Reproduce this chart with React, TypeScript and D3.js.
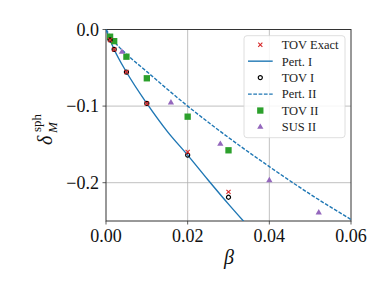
import * as d3 from "d3";

const betaTov = [0.001, 0.002, 0.005, 0.01, 0.02, 0.03];
const tovExact = [-0.0137, -0.026, -0.0555, -0.0965, -0.16, -0.212];
const tovI = [-0.0137, -0.026, -0.0555, -0.0965, -0.164, -0.219];
const tovII = [-0.0094, -0.0152, -0.0355, -0.0637, -0.1138, -0.1577];

const betaSus = [0.0039, 0.0159, 0.028, 0.04, 0.0521];
const susII = [-0.0294, -0.0955, -0.1495, -0.197, -0.239];

const betaPertI = [0, 0.001, 0.002, 0.005, 0.01, 0.015, 0.02, 0.025, 0.03, 0.035];
const pertI = [0, -0.0137, -0.026, -0.0555, -0.0965, -0.133, -0.164, -0.1965, -0.228, -0.258];

const betaPertII = [0, 0.001, 0.002, 0.005, 0.01, 0.02, 0.03, 0.04, 0.05, 0.06];
const pertII = [0, -0.008, -0.0155, -0.032, -0.055, -0.1, -0.141, -0.179, -0.215, -0.248];

const xTicks = [0, 0.02, 0.04, 0.06];
const yTicks = [0, -0.1, -0.2];

const legendLabels = ["TOV Exact", "Pert. I", "TOV I", "Pert. II", "TOV II", "SUS II"];
const legendKinds = ["x", "solid", "circle", "dashed", "square", "triangle"];

const RED = "#d62728";
const BLUE = "#1f77b4";
const GREEN = "#2ca02c";
const PURPLE = "#9467bd";
const FONT = "Liberation Serif";

const width = 390;
const height = 293;
const left = 106, right = 351, top = 29.5, bottom = 221;

const x = d3.scaleLinear().domain([0, 0.06]).range([left, right]);
const y = d3.scaleLinear().domain([-0.25, 0]).range([bottom, top]);
const fx = d3.format(".2f");
const fy = d3.format(".1f");

const sym = {
  x: d3.symbol(d3.symbolX, 13)(),
  circle: d3.symbol(d3.symbolCircle, 13)(),
  square: d3.symbol(d3.symbolSquare, 40)(),
  triangle: d3.symbol(d3.symbolTriangle, 17)(),
};

const markerStyle = (kind: string) => {
  if (kind === "x") return { fill: "none", stroke: RED, strokeWidth: 1.1 };
  if (kind === "circle") return { fill: "none", stroke: "#000", strokeWidth: 1.2 };
  if (kind === "square") return { fill: GREEN };
  return { fill: PURPLE };
};

const Marker = ({ kind, cx, cy }: { kind: string; cx: number; cy: number }) => (
  <path d={sym[kind]} transform={`translate(${cx},${cy})`} {...markerStyle(kind)} />
);

const lineGen = (xs: number[], ys: number[]) =>
  d3
    .line<number>()
    .x((d) => x(d))
    .y((_, i) => y(ys[i]))
    .curve(d3.curveMonotoneX)(xs);

const App = () => {
  const rowY = d3.scalePoint().domain(legendLabels).range([44.7, 127]);
  const txt = { fontFamily: FONT, fill: "#111" };

  return (
    <svg width={width} height={height} style={{ position: "absolute", left: 0, top: 0, background: "#fff" }}>
      <defs>
        <clipPath id="plot-clip">
          <rect x={left} y={top} width={right - left} height={bottom - top} />
        </clipPath>
      </defs>

      {/* grid */}
      <g stroke="#b0b0b0" strokeWidth={0.8}>
        {xTicks.slice(1, -1).map((t) => (
          <line key={t} x1={x(t)} x2={x(t)} y1={top} y2={bottom} />
        ))}
        {yTicks.slice(1).map((t) => (
          <line key={t} x1={left} x2={right} y1={y(t)} y2={y(t)} />
        ))}
      </g>

      {/* ticks */}
      <g stroke="#333" strokeWidth={0.8}>
        {xTicks.map((t) => (
          <line key={t} x1={x(t)} x2={x(t)} y1={bottom} y2={bottom + 3.5} />
        ))}
        {yTicks.map((t) => (
          <line key={t} x1={left - 3.5} x2={left} y1={y(t)} y2={y(t)} />
        ))}
      </g>
      {xTicks.map((t) => (
        <text key={t} x={x(t)} y={bottom + 21} textAnchor="middle" style={{ ...txt, fontSize: 18 }}>
          {fx(t)}
        </text>
      ))}
      {yTicks.map((t) => (
        <text key={t} x={left - 7} y={y(t)} dy="0.35em" textAnchor="end" style={{ ...txt, fontSize: 18 }}>
          {fy(t)}
        </text>
      ))}

      <rect x={left} y={top} width={right - left} height={bottom - top} fill="none" stroke="#333" strokeWidth={1} />

      <g clipPath="url(#plot-clip)" fill="none" stroke={BLUE} strokeWidth={1.4}>
        <path d={lineGen(betaPertI, pertI)} />
        <path d={lineGen(betaPertII, pertII)} strokeDasharray="3.7,1.6" />
      </g>

      <g>
        {betaTov.map((b, i) => (
          <Marker key={"s" + i} kind="square" cx={x(b)} cy={y(tovII[i])} />
        ))}
        {betaSus.map((b, i) => (
          <Marker key={"t" + i} kind="triangle" cx={x(b)} cy={y(susII[i])} />
        ))}
        {betaTov.map((b, i) => (
          <Marker key={"c" + i} kind="circle" cx={x(b)} cy={y(tovI[i])} />
        ))}
        {betaTov.map((b, i) => (
          <Marker key={"x" + i} kind="x" cx={x(b)} cy={y(tovExact[i])} />
        ))}
      </g>

      {/* legend */}
      <rect x={244} y={35.7} width={101} height={102} rx={3} fill="rgba(255,255,255,0.85)" stroke="#d6d6d6" strokeWidth={0.8} />
      {legendLabels.map((lab, i) => {
        const yy = rowY(lab) as number;
        const k = legendKinds[i];
        return (
          <g key={lab}>
            {k === "solid" || k === "dashed" ? (
              <line
                x1={248}
                x2={272.7}
                y1={yy}
                y2={yy}
                stroke={BLUE}
                strokeWidth={1.4}
                strokeDasharray={k === "dashed" ? "3.7,1.6" : undefined}
              />
            ) : (
              <Marker kind={k} cx={260.3} cy={yy} />
            )}
            <text x={281.7} y={yy} dy="0.35em" style={{ fontFamily: FONT, fontSize: 12.5, fill: "#222" }}>
              {lab}
            </text>
          </g>
        );
      })}

      {/* axis labels */}
      <text x={229} y={264} textAnchor="middle" style={{ ...txt, fontSize: 20, fontStyle: "italic" }}>
        β
      </text>
      <text transform="translate(52,125) rotate(-90)" style={txt}>
        <tspan x={-20} y={0} style={{ fontSize: 20, fontStyle: "italic" }}>δ</tspan>
        <tspan x={-8} y={5} style={{ fontSize: 13, fontStyle: "italic" }}>M</tspan>
        <tspan x={-7} y={-11} style={{ fontSize: 13 }}>sph</tspan>
      </text>
    </svg>
  );
};

export default App;
